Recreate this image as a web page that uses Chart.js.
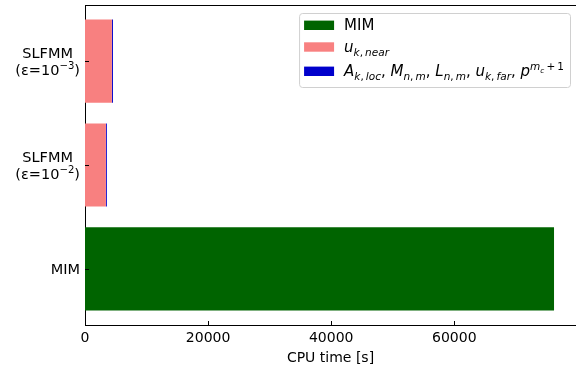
<!DOCTYPE html>
<html><head><meta charset="utf-8">
<script src="https://cdn.jsdelivr.net/npm/chart.js@4/dist/chart.umd.min.js"></script>
<style>html,body{margin:0;padding:0;background:#fff}canvas{display:block}</style>
</head><body>
<canvas id="c" width="576" height="369"></canvas>
<script>
// Categories from bottom (index 0) to top; "$...$" marks math with _{} / ^{}
const categories = ['MIM', 'SLFMM\n(ε=$10^{−2}$)', 'SLFMM\n(ε=$10^{−3}$)'];
const seriesNames = ['MIM', '$u_{k, near}$', '$A_{k, loc}$, $M_{n, m}$, $L_{n, m}$, $u_{k, far}$, $p^{m_c + 1}$'];
// CPU time [s] per category
const mimTime  = [76200, 0, 0];
const nearTime = [0, 3400, 4370];
const farTime  = [0, 150, 170];
const xTickValues = [0, 20000, 40000, 60000];
const xMax = 79770;

const seriesColors = ['#006400', '#f88080', '#0000cc'];
const FAMILY = '"DejaVu Sans", sans-serif';
const FS_AXIS = 14;     // x ticks and axis title
const FS_CAT = 14.5;    // category labels
const FS_LEG = 15;      // legend entries

// ---- tiny mathtext-like renderer ----
function parseMath(s, pos) {
  const nodes = [];
  while (pos < s.length) {
    const c = s[pos];
    if (c === '}') return { nodes, pos: pos + 1 };
    if (c === '_' || c === '^') {
      pos++;
      let body;
      if (s[pos] === '{') { const r = parseMath(s, pos + 1); body = r.nodes; pos = r.pos; }
      else { body = [{ t: 'm', s: s[pos] }]; pos++; }
      nodes.push({ t: c === '_' ? 'sub' : 'sup', body });
    } else { nodes.push({ t: 'm', s: c }); pos++; }
  }
  return { nodes, pos };
}
function parseRich(str) {
  const parts = str.split('$');
  const out = [];
  parts.forEach((p, i) => {
    if (!p) return;
    if (i % 2 === 0) out.push({ t: 'text', s: p });
    else out.push(...parseMath(p, 0).nodes);
  });
  return out;
}
function runNodes(ctx, nodes, x, y, fs, draw) {
  for (const n of nodes) {
    if (n.t === 'text') {
      ctx.font = `${fs}px ${FAMILY}`;
      if (draw) ctx.fillText(n.s, x, y);
      x += ctx.measureText(n.s).width;
    } else if (n.t === 'm') {
      if (n.s === ' ') { x += fs * 0.2; continue; }
      const it = /[A-Za-z]/.test(n.s);
      ctx.font = `${it ? 'italic ' : ''}${fs}px ${FAMILY}`;
      if (draw) ctx.fillText(n.s, x, y);
      x += ctx.measureText(n.s).width;
    } else if (n.t === 'sub') {
      x = runNodes(ctx, n.body, x, y + fs * 0.3, fs * 0.7, draw);
    } else if (n.t === 'sup') {
      x = runNodes(ctx, n.body, x, y - fs * 0.42, fs * 0.7, draw);
    }
  }
  return x;
}
function richWidth(ctx, str, fs) { return runNodes(ctx, parseRich(str), 0, 0, fs, false); }
function richDraw(ctx, str, x, y, fs) { runNodes(ctx, parseRich(str), x, y, fs, true); }

const idx = categories.map((_, i) => i);
const toPoints = arr => arr.map((v, i) => ({ x: v, y: i })).filter(p => p.x > 0);

const axesDecor = {
  id: 'axesDecor',
  afterDatasetsDraw(chart) {
    const { ctx, chartArea: a, scales: { x, y } } = chart;
    ctx.save();
    ctx.strokeStyle = '#000';
    ctx.lineWidth = 1;
    // top spine
    ctx.beginPath();
    ctx.moveTo(a.left, a.top + 0.5); ctx.lineTo(a.right, a.top + 0.5);
    ctx.stroke();
    // inward tick marks
    ctx.beginPath();
    xTickValues.forEach(v => {
      const px = Math.round(x.getPixelForValue(v)) + 0.5;
      ctx.moveTo(px, a.bottom); ctx.lineTo(px, a.bottom - 4);
    });
    idx.forEach(i => {
      const py = Math.round(y.getPixelForValue(i)) + 0.5;
      ctx.moveTo(a.left, py); ctx.lineTo(a.left + 4, py);
    });
    ctx.stroke();

    // category labels, centred lines, block right-aligned to the axis
    ctx.fillStyle = '#000';
    ctx.textBaseline = 'alphabetic';
    ctx.textAlign = 'left';
    const lh = 17;
    idx.forEach(i => {
      const lines = categories[i].split('\n');
      const ws = lines.map(l => richWidth(ctx, l, FS_CAT));
      const bw = Math.max(...ws);
      const cx = a.left - 5 - bw / 2;
      const py = y.getPixelForValue(i);
      lines.forEach((l, k) => {
        const base = py - (lines.length - 1) * lh / 2 + k * lh + 5.5;
        richDraw(ctx, l, cx - ws[k] / 2, base, FS_CAT);
      });
    });

    // legend box
    const tw = Math.max(...seriesNames.map(s => richWidth(ctx, s, FS_LEG)));
    const bw = tw + 51, bh = 74;
    const bx = a.right - 6 - bw, by = a.top + 8;
    ctx.beginPath();
    ctx.roundRect(bx + 0.5, by + 0.5, bw, bh, 3);
    ctx.fillStyle = 'rgba(255,255,255,0.85)';
    ctx.fill();
    ctx.strokeStyle = '#d0d0d0';
    ctx.stroke();
    const rows = [12.3, 34, 58.3];
    seriesNames.forEach((s, k) => {
      const cy = by + rows[k];
      ctx.fillStyle = seriesColors[k];
      ctx.fillRect(bx + 5, cy - 4.7, 30, 9.4);
      ctx.fillStyle = '#000';
      richDraw(ctx, s, bx + 45, cy + 4.5, FS_LEG);
    });
    ctx.restore();
  }
};

new Chart(document.getElementById('c'), {
  type: 'bar',
  data: {
    datasets: [
      { label: seriesNames[0], data: toPoints(mimTime),  backgroundColor: seriesColors[0] },
      { label: seriesNames[1], data: toPoints(nearTime), backgroundColor: seriesColors[1] },
      { label: seriesNames[2], data: toPoints(farTime),  backgroundColor: seriesColors[2] }
    ]
  },
  options: {
    indexAxis: 'y',
    responsive: false,
    animation: false,
    devicePixelRatio: 1,
    layout: { padding: { left: 85, top: 5, right: 0, bottom: 0 } },
    datasets: { bar: { categoryPercentage: 1, barPercentage: 0.8, borderWidth: 0 } },
    plugins: { legend: { display: false }, tooltip: { enabled: false } },
    scales: {
      y: {
        type: 'linear', min: -0.54, max: 2.54, stacked: true, offset: false,
        afterBuildTicks: s => { s.ticks = idx.map(v => ({ value: v })); },
        grid: { display: false, drawTicks: false, offset: false },
        border: { display: true, color: '#000', width: 1 },
        ticks: { display: false }
      },
      x: {
        type: 'linear', min: 0, max: xMax, stacked: true,
        afterBuildTicks: s => { s.ticks = xTickValues.map(v => ({ value: v })); },
        grid: { display: false, drawTicks: false },
        border: { display: true, color: '#000', width: 1 },
        ticks: { color: '#000', font: { family: FAMILY, size: FS_AXIS, lineHeight: 1 }, padding: 6, maxRotation: 0,
                 callback: v => String(v) },
        title: { display: true, text: 'CPU time [s]', color: '#000', font: { family: FAMILY, size: FS_AXIS, lineHeight: 1 }, padding: { top: 0, bottom: 4 } }
      }
    }
  },
  plugins: [axesDecor]
});
</script>
</body></html>
